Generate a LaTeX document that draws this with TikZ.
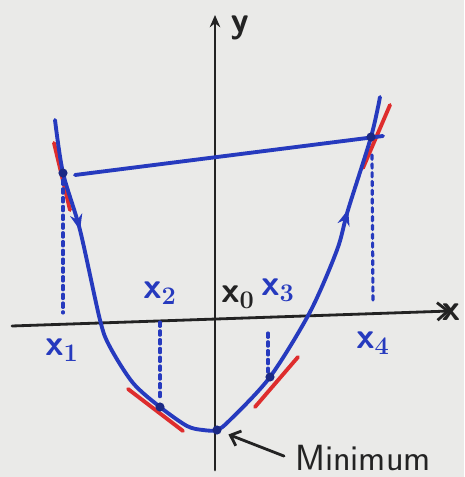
\documentclass[tikz,border=0pt]{standalone}
\usepackage{tikz}
\usetikzlibrary{arrows.meta,decorations.markings}
\definecolor{pen}{RGB}{38,58,190}
\definecolor{tang}{RGB}{222,45,45}
\definecolor{ink}{RGB}{35,35,35}
\definecolor{paper}{RGB}{234,234,232}

\begin{document}
\begin{tikzpicture}[x=0.02cm,y=0.02cm,line cap=round,
  curve/.style={pen,line width=2.2pt},
  tangent/.style={tang,line width=2.2pt},
  drop/.style={pen,line width=1.8pt,dash pattern=on 2.5pt off 2.5pt},
  axis/.style={ink,line width=1.6pt},
  lbl/.style={font=\huge\boldmath}]
\fill[paper] (0,0) rectangle (464,477);
\useasboundingbox (0,0) rectangle (464,477);
\coordinate (P1) at (63,304); \coordinate (P2) at (160,70); \coordinate (M) at (217,47);
\coordinate (P3) at (270,100); \coordinate (P4) at (371,340);
% axes
\draw[axis,-{Straight Barb[length=6pt,width=10pt]}] (12,151) -- (450,166);
\draw[axis,-{Stealth[length=7pt,width=6pt]}] (215,7) -- (215,462);
% tangents
\draw[tangent] (54,334) -- (70,267);
\draw[tangent] (128,88) -- (183,46);
\draw[tangent] (255,70) -- (298,120);
\draw[tangent] (363,309) -- (390,372);
% function and secant
\draw[curve,postaction={decorate},decoration={markings,
  mark=at position 0.15 with {\arrow{Stealth[length=9pt,width=7pt]}},
  mark=at position 0.845 with {\arrow{Stealth[length=9pt,width=7pt]}}}]
  plot[smooth,tension=0.5] coordinates {(55,357) (P1) (80,247) (100,157) (110,130) (133,94) (P2) (187,51) (203,47) (M) (230,57) (P3) (310,165) (337,227) (348,267) (P4) (380,380)};
\draw[curve] (75,302) -- (383,341);
% drop lines
\draw[drop] (63,297) -- (63,164);
\draw[drop] (160,155) -- (160,77);
\draw[drop] (268,144) -- (268,105);
\draw[drop] (372,322) -- (373,174);
\foreach \p in {P1,P2,M,P3,P4}{\fill[pen!70!black] (\p) circle (2.6pt);}
% labels
\foreach \i/\xx/\yy in {1/62/127,2/160/184,3/278/187,4/373/134}{\node[lbl,pen] at (\xx,\yy) {$\mathsf{x}_{\i}$};}
\node[lbl,ink] at (238,180) {$\mathsf{x}_0$};
\node[lbl,ink] at (240,449) {$\mathsf{y}$};
\node[lbl,ink] at (451,165) {$\mathsf{x}$};
\node[ink,font=\huge\sffamily] (minlbl) at (363,19) {Minimum};
\draw[axis,-{Straight Barb[length=5pt,width=9pt]},shorten <=3pt,shorten >=7pt] (minlbl.west) -- (M);
\end{tikzpicture}
\end{document}
